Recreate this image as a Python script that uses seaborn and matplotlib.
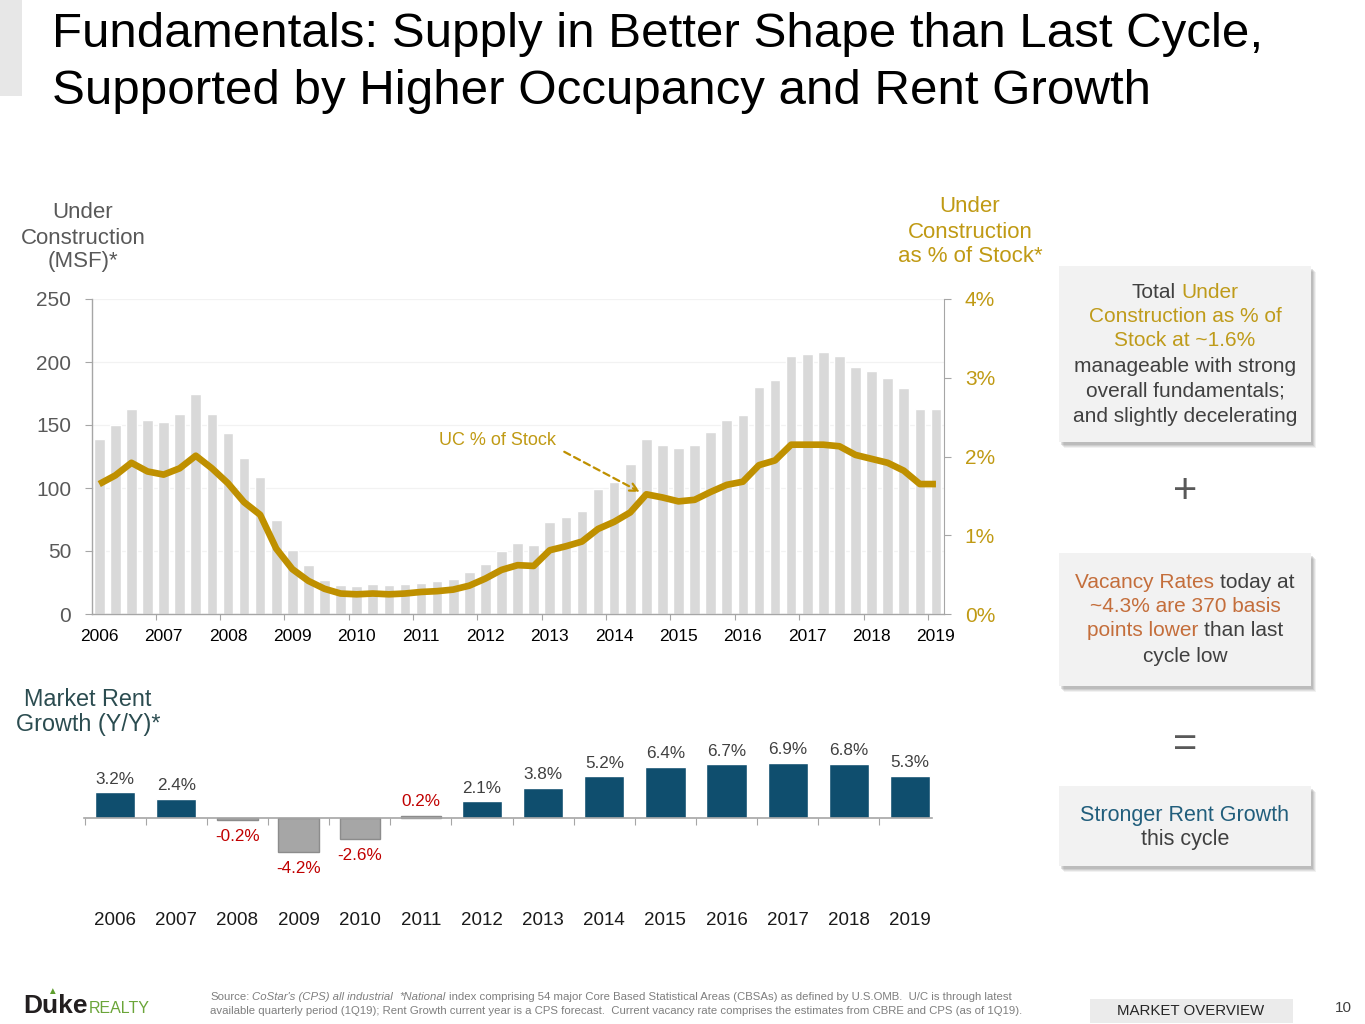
import numpy as np
import matplotlib
matplotlib.use("Agg")
import matplotlib.pyplot as plt
from matplotlib.patches import Rectangle
import seaborn as sns

# ---------------- data ----------------
quarters = [f"{y}Q{q}" for y in range(2006, 2020) for q in range(1, 5)][:53]
uc_msf = [139, 150, 163, 154, 152, 159, 175, 159, 144, 124, 109, 75, 51, 39, 27, 23, 22, 24,
          23, 24, 25, 26, 28, 33, 40, 50, 56, 55, 73, 77, 82, 99, 105, 119, 139, 134,
          131.5, 134, 144.5, 154, 158, 180, 186, 205, 206.5, 208, 205, 196, 192.5, 187.5, 179, 163, 163]
uc_pct = [1.65, 1.76, 1.92, 1.81, 1.77, 1.85, 2.01, 1.85, 1.66, 1.42, 1.26, 0.83, 0.57, 0.42, 0.32, 0.26, 0.25, 0.26,
          0.25, 0.26, 0.28, 0.29, 0.31, 0.36, 0.45, 0.56, 0.62, 0.61, 0.81, 0.86, 0.92, 1.08, 1.17, 1.29, 1.52, 1.48,
          1.43, 1.45, 1.55, 1.64, 1.68, 1.89, 1.95, 2.15, 2.15, 2.15, 2.13, 2.02, 1.97, 1.92, 1.82, 1.65, 1.65]
year_labels = [str(y) for y in range(2006, 2020)]
rent_years = [str(y) for y in range(2006, 2020)]
rent_growth = [3.2, 2.4, -0.2, -4.2, -2.6, 0.2, 2.1, 3.8, 5.2, 6.4, 6.7, 6.9, 6.8, 5.3]
left_ticks = [0, 50, 100, 150, 200, 250]
right_ticks = [0, 1, 2, 3, 4]

# ---------------- style ----------------
sns.set_style("white")
plt.rcParams["font.family"] = ["Liberation Sans", "DejaVu Sans"]

GOLD = "#BF9000"
GOLD_T = "#C09A14"
GRAY_TXT = "#595959"
SPINE = "#A6A6A6"
TEAL = "#0F4E6E"
NEG = "#A6A6A6"
RED = "#C00000"
DARK = "#404040"

W, H = 1365, 1024
fig = plt.figure(figsize=(W / 100, H / 100), dpi=100)
fig.patch.set_facecolor("white")


def fx(x):
    return x / W


def fy(y):
    return 1 - y / H


# ---------------- header ----------------
fig.patches.append(Rectangle((0, fy(96)), fx(22), 96 / H, transform=fig.transFigure,
                             facecolor="#E7E7E7", edgecolor="none"))
fig.text(fx(52), fy(47), "Fundamentals: Supply in Better Shape than Last Cycle,",
         fontsize=35.5, va="baseline", color="black")
fig.text(fx(52), fy(104), "Supported by Higher Occupancy and Rent Growth",
         fontsize=35.5, va="baseline", color="black")

# ---------------- top chart ----------------
ax = fig.add_axes([fx(92), fy(614), 852 / W, 315 / H])
sns.barplot(x=quarters, y=uc_msf, color="#D9D9D9", width=0.66, saturation=1, ax=ax)
ax.set_ylim(0, 250)
ax.set_yticks(left_ticks)
ax.yaxis.grid(True, color="#F2F2F2", lw=0.9)
ax.xaxis.grid(False)
ax.set_axisbelow(True)
for s in ["top", "right"]:
    ax.spines[s].set_visible(False)
for s in ["left", "bottom"]:
    ax.spines[s].set_color(SPINE)
    ax.spines[s].set_linewidth(1)
ax.tick_params(axis="y", which="major", length=5, color=SPINE, labelsize=15,
               labelcolor=GRAY_TXT, pad=10, left=True)
majors = np.arange(3.5, 52, 4)
ax.set_xticks(majors, labels=[""] * len(majors))
ax.set_xticks(np.arange(0, 53, 4), labels=year_labels, minor=True)
ax.tick_params(axis="x", which="major", length=4, color=SPINE, bottom=True)
ax.tick_params(axis="x", which="minor", length=0, labelsize=12.5, labelcolor="black", pad=10.5)
ax.set_xlabel("")
ax.set_ylabel("")

ax2 = ax.twinx()
sns.lineplot(x=np.arange(len(uc_pct)), y=uc_pct, ax=ax2, color=GOLD, lw=4.8,
             solid_joinstyle="round", solid_capstyle="butt")
ax2.set_ylim(0, 4)
ax2.set_yticks(right_ticks, labels=[f"{v}%" for v in right_ticks])
for s in ["top", "left", "bottom"]:
    ax2.spines[s].set_visible(False)
ax2.spines["right"].set_color(SPINE)
ax2.tick_params(axis="y", length=5, color=SPINE, labelsize=15, labelcolor=GOLD_T, pad=10, right=True)
ax2.set_xlabel("")
ax2.set_ylabel("")
ax2.text(24.75, 2.2, "UC % of Stock", color=GOLD_T, fontsize=13, ha="center", va="center")
ax2.annotate("", xy=(33.6, 1.55), xytext=(28.9, 2.06),
             arrowprops=dict(arrowstyle="->", color=GOLD, lw=1.6, linestyle=(0, (3, 2)),
                             shrinkA=0, shrinkB=0, mutation_scale=14))
ax.set_xlim(-0.45, 52.5)

# axis titles
for txt, y in zip(["Under", "Construction", "(MSF)*"], [213, 238, 262]):
    fig.text(fx(83), fy(y), txt, fontsize=16, color=GRAY_TXT, ha="center", va="center")
for txt, y in zip(["Under", "Construction", "as % of Stock*"], [207, 232, 257]):
    fig.text(fx(970), fy(y), txt, fontsize=16, color=GOLD_T, ha="center", va="center")

# ---------------- bottom chart ----------------
axb = fig.add_axes([fx(84), fy(866), 848 / W, 112 / H])
bar_cols = [TEAL if v >= 0.5 else NEG for v in rent_growth]
sns.barplot(x=rent_years, y=rent_growth, hue=rent_years, palette=bar_cols, legend=False,
            width=0.66, saturation=1, ax=axb)
for p, v in zip(axb.patches, rent_growth):
    if v < 0.5:
        p.set_edgecolor("#8C8C8C")
        p.set_linewidth(1)
axb.set_ylim(-6, 8)
axb.set_xlim(-0.51, 13.36)
for s in ["top", "right", "left"]:
    axb.spines[s].set_visible(False)
axb.spines["bottom"].set_position(("data", 0))
axb.spines["bottom"].set_color(SPINE)
axb.spines["bottom"].set_linewidth(1.2)
axb.set_yticks([])
axb.set_xticks(np.arange(-0.5, 13, 1), labels=[""] * 14)
axb.tick_params(axis="x", length=5, color=SPINE, bottom=True, direction="out")
axb.set_xlabel("")
axb.set_ylabel("")
for i, (yr, v) in enumerate(zip(rent_years, rent_growth)):
    axb.text(i, -0.49, yr, transform=axb.get_xaxis_transform(), ha="center", va="center",
             fontsize=13.5, color="#1A1A1A")
    if v >= 0.5:
        axb.annotate(f"{v:.1f}%", (i, v), xytext=(0, 4), textcoords="offset points",
                     ha="center", va="bottom", fontsize=12.3, color=DARK, annotation_clip=False)
    elif v >= 0:
        axb.annotate(f"{v:.1f}%", (i, v), xytext=(0, 5), textcoords="offset points",
                     ha="center", va="bottom", fontsize=12.3, color=RED, annotation_clip=False)
    else:
        axb.annotate(f"{v:.1f}%", (i, v), xytext=(0, -6.5), textcoords="offset points",
                     ha="center", va="top", fontsize=12.3, color=RED, annotation_clip=False)

fig.text(fx(88), fy(699), "Market Rent", fontsize=16.8, color="#2B4C50", ha="center", va="center")
fig.text(fx(88), fy(724), "Growth (Y/Y)*", fontsize=16.8, color="#2B4C50", ha="center", va="center")

# ---------------- rich text helper ----------------
renderer = fig.canvas.get_renderer()


def seg_width(s, size, style="normal", weight="normal"):
    t = fig.text(0, 0, "|" + s + "|", fontsize=size, style=style, weight=weight)
    w1 = t.get_window_extent(renderer).width
    t.set_text("||")
    w2 = t.get_window_extent(renderer).width
    t.remove()
    return w1 - w2


def rich(y, segs, size, x=None, cx=None, va="center"):
    widths = [seg_width(s, size, st, wt) for s, c, st, wt in segs]
    total = sum(widths)
    pos = cx - total / 2 if cx is not None else x
    for (s, c, st, wt), w in zip(segs, widths):
        lead = len(s) - len(s.lstrip(" "))
        core = s.strip(" ")
        off = seg_width(" " * lead, size, st, wt) if lead else 0
        if core:
            fig.text(fx(pos + off), fy(y), core, fontsize=size, color=c, style=st, weight=wt,
                     ha="left", va=va)
        pos += w


def N(s, c):
    return (s, c, "normal", "normal")


def box(x0, y0, x1, y1):
    for k, a in [(6, 0.10), (5, 0.14), (4, 0.18), (3, 0.22)]:
        fig.patches.append(Rectangle((fx(x0 + k - 1), fy(y1 + k)), (x1 - x0) / W, (y1 - y0) / H,
                                     transform=fig.transFigure, facecolor="#7F7F7F", alpha=a,
                                     edgecolor="none", zorder=0))
    fig.patches.append(Rectangle((fx(x0), fy(y1)), (x1 - x0) / W, (y1 - y0) / H,
                                 transform=fig.transFigure, facecolor="#F2F2F2",
                                 edgecolor="none", zorder=0.5))


# ---------------- right-side boxes ----------------
BOXG = "#BF9B1A"
ORANGE = "#C46E3B"
BTEAL = "#215E7C"
box(1059, 266, 1311, 442)
rich(292, [N("Total ", DARK), N("Under", BOXG)], 15, cx=1185)
rich(316, [N("Construction as % of", BOXG)], 15, cx=1185)
rich(341, [N("Stock at ~1.6%", BOXG)], 15, cx=1185)
rich(366, [N("manageable with strong", DARK)], 15, cx=1185)
rich(391, [N("overall fundamentals;", DARK)], 15, cx=1185)
rich(416, [N("and slightly decelerating", DARK)], 15, cx=1185)

fig.text(fx(1185), fy(492), "+", fontsize=30, color=GRAY_TXT, ha="center", va="center")

box(1059, 553, 1311, 686)
rich(582, [N("Vacancy Rates", ORANGE), N(" today at", DARK)], 15, cx=1185)
rich(607, [N("~4.3% are 370 basis", ORANGE)], 15, cx=1185)
rich(631, [N("points lower", ORANGE), N(" than last", DARK)], 15, cx=1185)
rich(656, [N("cycle low", DARK)], 15, cx=1185)

fig.text(fx(1185), fy(745), "=", fontsize=30, color=GRAY_TXT, ha="center", va="center")

box(1059, 786, 1311, 866)
rich(815, [N("Stronger Rent Growth", BTEAL)], 15.5, cx=1185)
rich(840, [N("this cycle", DARK)], 15.5, cx=1185)

# ---------------- footer ----------------
SRC = "#7F7F7F"
rich(997, [N("Source: ", SRC), ("CoStar's (CPS) all industrial", SRC, "italic", "normal"), N("  ", SRC),
           ("*National", SRC, "italic", "normal"),
           N(" index comprising 54 major Core Based Statistical Areas (CBSAs) as defined by U.S.OMB.  U/C is through latest", SRC)],
     8.2, x=210)
rich(1011, [N("available quarterly period (1Q19); Rent Growth current year is a CPS forecast.  Current vacancy rate comprises the estimates from CBRE and CPS (as of 1Q19).", SRC)],
     8.2, x=210)

fig.text(fx(23), fy(1013), "Duke", fontsize=19, weight="bold", color="#231F20", va="baseline")
fig.text(fx(89), fy(1013), "REALTY", fontsize=11.5, color="#6BA539", va="baseline")
fig.text(fx(52), fy(991), "\u25B2", fontsize=7, color="#5E9E2E", ha="center", va="center")

fig.patches.append(Rectangle((fx(1090), fy(1023)), 203 / W, 24 / H, transform=fig.transFigure,
                             facecolor="#EBEBEB", edgecolor="none"))
fig.text(fx(1191), fy(1011), "MARKET OVERVIEW", fontsize=10.8, color="#262626", ha="center", va="center")
fig.text(fx(1343), fy(1008), "10", fontsize=11, color=DARK, ha="center", va="center")

fig.savefig("out.png", dpi=100)
